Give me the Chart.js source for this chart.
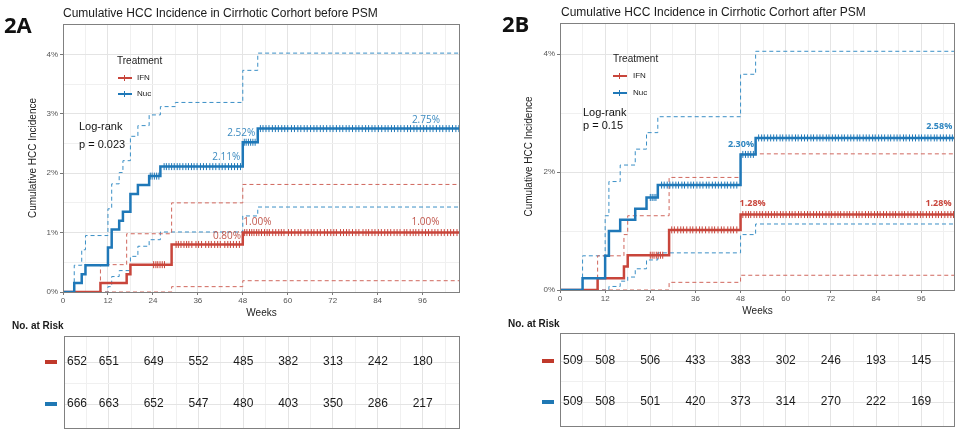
<!DOCTYPE html>
<html>
<head>
<meta charset="utf-8">
<script src="https://cdn.jsdelivr.net/npm/chart.js@4.4.1/dist/chart.umd.min.js"></script>
<style>
  body { margin: 0; background: #fff; font-family: "Liberation Sans", Arial, sans-serif; }
  #wrap { position: relative; width: 960px; height: 433px; overflow: hidden; background: #fff; }
  canvas { position: absolute; }
  .t { position: absolute; white-space: nowrap; color: #1a1a1a; line-height: 1; }
  .panel { font-family: "Open Sans", sans-serif; font-weight: 700; font-size: 22px; color: #111; }
  .title { font-size: 12px; }
  .risk { font-size: 10px; font-weight: 700; }
  .leg { font-size: 10px; color: #222; }
  .legi { font-size: 8px; color: #222; }
  .lr { font-size: 11px; color: #111; }
  .sw { position: absolute; }
</style>
</head>
<body>
<div id="wrap">
  <canvas id="plotA" width="480" height="330" style="left:0;top:0"></canvas>
  <canvas id="tabA" width="480" height="103" style="left:0;top:330px"></canvas>
  <canvas id="plotB" width="480" height="330" style="left:480px;top:0"></canvas>
  <canvas id="tabB" width="480" height="103" style="left:480px;top:330px"></canvas>

  <div class="t panel" style="left:4px;top:13px">2A</div>
  <div class="t title" style="left:63px;top:7px">Cumulative HCC Incidence in Cirrhotic Corhort before PSM</div>
  <div class="t panel" style="left:502px;top:12px">2B</div>
  <div class="t title" style="left:561px;top:6px">Cumulative HCC Incidence in Cirrhotic Corhort after PSM</div>

  <!-- legends inside the plots -->
  <div class="t leg" style="left:117px;top:56px">Treatment</div>
  <div class="sw" style="left:118px;top:77px;width:14px;height:2px;background:#c8453b"></div>
  <div class="sw" style="left:124px;top:75px;width:1px;height:6px;background:#c8453b"></div>
  <div class="t legi" style="left:137px;top:74px">IFN</div>
  <div class="sw" style="left:118px;top:93px;width:14px;height:2px;background:#1f78b8"></div>
  <div class="sw" style="left:124px;top:91px;width:1px;height:6px;background:#1f78b8"></div>
  <div class="t legi" style="left:137px;top:90px">Nuc</div>

  <div class="t leg" style="left:613px;top:54px">Treatment</div>
  <div class="sw" style="left:613px;top:75px;width:14px;height:2px;background:#c8453b"></div>
  <div class="sw" style="left:619px;top:73px;width:1px;height:6px;background:#c8453b"></div>
  <div class="t legi" style="left:633px;top:72px">IFN</div>
  <div class="sw" style="left:613px;top:92px;width:14px;height:2px;background:#1f78b8"></div>
  <div class="sw" style="left:619px;top:90px;width:1px;height:6px;background:#1f78b8"></div>
  <div class="t legi" style="left:633px;top:89px">Nuc</div>

  <div class="t lr" style="left:79px;top:121px">Log-rank</div>
  <div class="t lr" style="left:79px;top:139px">p = 0.023</div>
  <div class="t lr" style="left:583px;top:107px">Log-rank</div>
  <div class="t lr" style="left:583px;top:120px">p = 0.15</div>

  <!-- risk table headers and swatches -->
  <div class="t risk" style="left:12px;top:321px">No. at Risk</div>
  <div class="sw" style="left:45px;top:360px;width:12px;height:4px;background:#c0392b"></div>
  <div class="sw" style="left:45px;top:402px;width:12px;height:4px;background:#1f78b4"></div>
  <div class="t risk" style="left:508px;top:319px">No. at Risk</div>
  <div class="sw" style="left:542px;top:359px;width:12px;height:4px;background:#c0392b"></div>
  <div class="sw" style="left:542px;top:400px;width:12px;height:4px;background:#1f78b4"></div>
</div>

<script>
// ---- data (weeks, cumulative incidence in %) ----
const riskWeeks = [0, 12, 24, 36, 48, 60, 72, 84, 96];

// 2A: before PSM
const ifnTimesA = [0, 10, 17, 18, 29, 48, 106];
const ifnCumA   = [0, 0.15, 0.30, 0.46, 0.80, 1.00, 1.00];
const ifnUpTimesA = [0, 10, 17, 29, 48, 106];
const ifnUpA      = [0, 0.46, 0.98, 1.50, 1.81, 1.81];
const ifnLoTimesA = [0, 29, 48, 106];
const ifnLoA      = [0, 0.09, 0.19, 0.19];
const nucTimesA = [0, 3, 5, 6, 12, 13, 15, 16, 18, 20, 23, 26, 48, 52, 106];
const nucCumA   = [0, 0.15, 0.30, 0.45, 0.75, 1.05, 1.20, 1.35, 1.65, 1.80, 1.95, 2.11, 2.52, 2.75, 2.75];
const nucUpTimesA = [0, 3, 5, 6, 12, 13, 15, 16, 18, 20, 23, 26, 30, 48, 52, 106];
const nucUpA      = [0, 0.45, 0.71, 0.95, 1.40, 1.82, 2.01, 2.21, 2.62, 2.80, 2.98, 3.12, 3.19, 3.73, 4.02, 4.02];
const nucLoTimesA = [0, 12, 13, 15, 18, 20, 23, 26, 48, 52, 106];
const nucLoA      = [0, 0.09, 0.26, 0.36, 0.60, 0.77, 0.88, 1.01, 1.28, 1.43, 1.43];
const ifnCensorA = [24.2, 24.8, 25.3, 25.9, 26.5, 27.1, 30.2, 30.8, 31.5, 32.3, 33, 33.6, 34.4, 35.5, 36.2, 37,
  38.1, 38.9, 39.6, 40.5, 41.3, 42, 43.2, 44, 44.7, 45.5, 46.3, 47.1, 48.5, 49.1, 49.8, 50.4, 51, 51.7, 52.3,
  53, 53.8, 54.5, 55.1, 56, 56.8, 57.6, 58.3, 59, 60.2, 61, 61.9, 62.8, 63.5, 64.6, 65.4, 66.3, 67, 67.9, 68.7,
  69.8, 70.6, 71.5, 72.3, 73, 74.1, 74.9, 75.7, 76.4, 77.3, 78.2, 79, 80.1, 80.9, 81.6, 82.5, 83.3, 84.2, 85,
  85.9, 86.7, 87.5, 88.4, 89.2, 90, 91.1, 91.8, 92.7, 93.5, 94.2, 95, 95.9, 96.8, 97.6, 98.5, 99.3, 100.1, 101,
  101.8, 102.7, 103.5, 104.3, 105.2];
const nucCensorA = [23.3, 23.8, 24.4, 25, 25.6, 27, 27.6, 28.3, 29, 29.7, 30.5, 31.2, 32, 32.8, 33.5, 34.3, 35,
  35.8, 36.7, 37.5, 38.3, 39.2, 40, 40.8, 41.7, 42.5, 43.3, 44.2, 45, 45.8, 46.6, 47.4, 48.4, 48.9, 49.5, 50.1,
  50.7, 51.3, 52.7, 53.4, 54.2, 55, 55.9, 56.7, 57.5, 58.4, 59.2, 60, 61, 61.8, 62.7, 63.5, 64.4, 65.2, 66.1, 67,
  67.8, 68.7, 69.5, 70.4, 71.3, 72.1, 73, 73.9, 74.7, 75.6, 76.4, 77.3, 78.2, 79, 79.9, 80.8, 81.6, 82.5, 83.3,
  84.2, 85.1, 86, 86.8, 87.7, 88.5, 89.4, 90.2, 91.1, 92, 92.8, 93.7, 94.5, 95.4, 96.3, 97.1, 98, 98.8, 99.7,
  100.6, 101.4, 102.3, 103.1, 104, 104.9, 105.7];
const ifnRiskA = [652, 651, 649, 552, 485, 382, 313, 242, 180];
const nucRiskA = [666, 663, 652, 547, 480, 403, 350, 286, 217];

// 2B: after PSM
const ifnTimesB = [0, 10, 17, 18, 29, 48, 105];
const ifnCumB   = [0, 0.20, 0.40, 0.59, 1.02, 1.28, 1.28];
const ifnUpTimesB = [0, 10, 17, 18, 29, 48, 105];
const ifnUpB      = [0, 0.58, 0.94, 1.26, 1.91, 2.31, 2.31];
const ifnLoTimesB = [0, 29, 48, 105];
const ifnLoB      = [0, 0.13, 0.25, 0.25];
const nucTimesB = [0, 6, 12, 13, 16, 20, 23, 26, 48, 52, 105];
const nucCumB   = [0, 0.20, 0.58, 1.00, 1.19, 1.38, 1.57, 1.78, 2.30, 2.58, 2.58];
const nucUpTimesB = [0, 6, 12, 13, 16, 20, 23, 26, 48, 52, 105];
const nucUpB      = [0, 0.58, 1.26, 1.84, 2.12, 2.39, 2.67, 2.94, 3.66, 4.05, 4.05];
const nucLoTimesB = [0, 13, 16, 18, 20, 23, 26, 48, 52, 105];
const nucLoB      = [0, 0.06, 0.15, 0.22, 0.36, 0.51, 0.63, 0.94, 1.12, 1.12];
const ifnCensorB = [24, 24.5, 25, 25.6, 26.1, 26.7, 27.3, 29.7, 30.4, 31.3, 32.1, 32.8, 33.7, 34.6, 35.3, 36.2,
  37.1, 37.8, 38.7, 39.6, 40.4, 41.1, 42, 42.9, 43.6, 44.6, 45.4, 46.1, 47, 48.6, 49.4, 50.1, 50.7, 51.6, 52.3,
  53.1, 53.8, 54.7, 55.4, 56.2, 57, 57.7, 58.6, 59.3, 60.1, 61, 61.7, 62.5, 63.4, 64.1, 65, 65.8, 66.5, 67.4,
  68.2, 69, 69.8, 70.7, 71.5, 72.2, 73.1, 73.9, 74.6, 75.5, 76.3, 77, 77.9, 78.8, 79.5, 80.3, 81.2, 82, 82.7,
  83.6, 84.4, 85.1, 86, 86.8, 87.7, 88.5, 89.2, 90.1, 90.9, 91.6, 92.5, 93.3, 94.1, 95, 95.8, 96.5, 97.4, 98.2,
  99, 99.9, 100.6, 101.4, 102.3, 103.1, 103.9, 104.6];
const nucCensorB = [24, 24.5, 25, 25.5, 27, 27.7, 28.5, 29.2, 30, 30.8, 31.5, 32.4, 33.1, 34, 34.8, 35.5, 36.4,
  37.2, 38, 38.9, 39.6, 40.5, 41.3, 42.1, 42.9, 43.8, 44.5, 45.4, 46.2, 47, 48.6, 49.3, 50, 50.7, 51.4, 52.8,
  53.6, 54.3, 55.2, 56, 56.8, 57.6, 58.5, 59.2, 60.1, 60.9, 61.7, 62.6, 63.3, 64.2, 65, 65.8, 66.7, 67.4, 68.3,
  69.1, 69.9, 70.8, 71.5, 72.4, 73.2, 74, 74.9, 75.6, 76.5, 77.3, 78.1, 79, 79.7, 80.6, 81.4, 82.2, 83.1, 83.8,
  84.7, 85.5, 86.3, 87.2, 87.9, 88.8, 89.6, 90.4, 91.3, 92, 92.9, 93.7, 94.5, 95.4, 96.1, 97, 97.8, 98.6, 99.5,
  100.2, 101.1, 101.9, 102.7, 103.6, 104.3];
const ifnRiskB = [509, 508, 506, 433, 383, 302, 246, 193, 145];
const nucRiskB = [509, 508, 501, 420, 373, 314, 270, 222, 169];

// ---- styling ----
const RED = '#c8453b', BLUE = '#1f78b8';
const RED_CI = '#d0675d', BLUE_CI = '#3a8fc6';
const FONT = '"Liberation Sans", Arial, sans-serif';
const GRID_MAJOR = '#e4e4e4', GRID_MINOR = '#f0f0f0';
const xGrid = [0, 6, 12, 18, 24, 30, 36, 42, 48, 54, 60, 66, 72, 78, 84, 90, 96, 102];

function steps(times, vals) {
  return times.map((t, i) => ({ x: t, y: vals[i] }));
}
// value of the step curve at week t
function kmAt(times, vals, t) {
  let v = vals[0];
  for (let i = 0; i < times.length; i++) { if (times[i] <= t) v = vals[i]; }
  return v;
}
function censorPts(times, vals, marks) {
  return marks.map(m => ({ x: m, y: kmAt(times, vals, m) }));
}
function curve(data, color, width, dashed, order) {
  return {
    data: data, borderColor: color, borderWidth: width, borderDash: dashed ? [4, 3] : [],
    stepped: 'before', pointRadius: 0, fill: false, order: order
  };
}
function censor(data, color) {
  return {
    data: data, showLine: false, pointStyle: 'line', rotation: 90, pointRadius: 3.5,
    pointBorderWidth: 1, borderColor: color, backgroundColor: color, order: 0
  };
}

// frame round the plot area + text labels at the end of the curves
const boxPlugin = {
  id: 'box',
  afterDatasetsDraw(chart, args, opts) {
    const ctx = chart.ctx, a = chart.chartArea;
    const xs = chart.scales.x, ys = chart.scales.y;
    ctx.save();
    (opts.labels || []).forEach(l => {
      ctx.font = (opts.bold ? 'bold ' : '') + opts.size + 'px "Open Sans", sans-serif';
      ctx.fillStyle = l.color;
      ctx.textAlign = 'center';
      ctx.textBaseline = 'middle';
      ctx.fillText(l.text, xs.getPixelForValue(l.week), ys.getPixelForValue(l.value) - l.dy);
    });
    ctx.strokeStyle = '#808080';
    ctx.lineWidth = 1;
    ctx.strokeRect(Math.round(a.left) + 0.5, Math.round(a.top) + 0.5,
      Math.round(a.right - a.left) - 1, Math.round(a.bottom - a.top));
    ctx.restore();
  }
};

function makePlot(id, s) {
  return new Chart(document.getElementById(id), {
    type: 'line',
    data: {
      datasets: [
        curve(steps(s.ifnUpT, s.ifnUp), RED_CI, 1, true, 3),
        curve(steps(s.ifnLoT, s.ifnLo), RED_CI, 1, true, 3),
        curve(steps(s.nucUpT, s.nucUp), BLUE_CI, 1, true, 3),
        curve(steps(s.nucLoT, s.nucLo), BLUE_CI, 1, true, 3),
        curve(steps(s.ifnT, s.ifn), RED, 2.5, false, 2),
        curve(steps(s.nucT, s.nuc), BLUE, 2.5, false, 1),
        censor(censorPts(s.ifnT, s.ifn, s.ifnC), RED),
        censor(censorPts(s.nucT, s.nuc, s.nucC), BLUE)
      ]
    },
    plugins: [boxPlugin],
    options: {
      responsive: false, animation: false, devicePixelRatio: 1,
      layout: { padding: { left: s.padL, right: s.padR, top: s.padT, bottom: 0 } },
      plugins: {
        legend: { display: false }, tooltip: { enabled: false },
        box: { labels: s.labels, bold: s.bold, size: s.labelSize }
      },
      scales: {
        x: {
          type: 'linear', min: 0, max: s.xMax,
          afterBuildTicks: sc => { sc.ticks = xGrid.map(v => ({ value: v })); },
          afterFit: sc => { sc.height = s.xH; },
          ticks: { autoSkip: false, maxRotation: 0, padding: 1, color: '#555',
            font: { size: 8, family: FONT }, callback: v => (v % 12 === 0 ? v : '') },
          grid: { color: c => (c.tick && c.tick.value % 12 === 0 ? GRID_MAJOR : GRID_MINOR),
            tickColor: c => (c.tick && c.tick.value % 12 === 0 ? '#777' : 'rgba(0,0,0,0)'), tickLength: 3 },
          border: { display: false },
          title: { display: true, text: 'Weeks', color: '#222', font: { size: 10, family: FONT },
            padding: { top: 0, bottom: s.titlePadX } }
        },
        y: {
          type: 'linear', min: 0, max: s.yMax,
          afterBuildTicks: sc => { sc.ticks = s.yGrid.map(v => ({ value: v })); },
          afterFit: sc => { sc.width = s.yW; },
          ticks: { padding: 2, color: '#555', font: { size: 8, family: FONT },
            callback: v => (s.yLab.includes(v) ? v + '%' : '') },
          grid: { color: c => (c.tick && s.yLab.includes(c.tick.value) ? GRID_MAJOR : GRID_MINOR),
            tickColor: c => (c.tick && s.yLab.includes(c.tick.value) ? '#777' : 'rgba(0,0,0,0)'), tickLength: 3 },
          border: { display: false },
          title: { display: true, text: 'Cumulative HCC Incidence', color: '#222',
            font: { size: 10, family: FONT }, padding: { top: 4, bottom: 0 } }
        }
      }
    }
  });
}

// risk table drawn on the same week scale as the plot above it
const riskPlugin = {
  id: 'risk',
  afterDraw(chart, args, opts) {
    const ctx = chart.ctx, a = chart.chartArea;
    const xs = chart.scales.x, ys = chart.scales.y;
    ctx.save();
    ctx.font = '12px ' + FONT;
    ctx.fillStyle = '#1a1a1a';
    ctx.textBaseline = 'middle';
    [[opts.ifn, 2], [opts.nuc, 1]].forEach(([row, r]) => {
      row.forEach((n, i) => {
        const x = xs.getPixelForValue(riskWeeks[i]);
        if (i === 0) { ctx.textAlign = 'left'; ctx.fillText(n, a.left + 3, ys.getPixelForValue(r)); }
        else { ctx.textAlign = 'center'; ctx.fillText(n, x, ys.getPixelForValue(r)); }
      });
    });
    ctx.strokeStyle = '#808080';
    ctx.lineWidth = 1;
    ctx.strokeRect(Math.round(a.left) + 0.5, Math.round(a.top) + 0.5,
      Math.round(a.right - a.left) - 1, Math.round(a.bottom - a.top));
    ctx.restore();
  }
};

function makeTable(id, s) {
  return new Chart(document.getElementById(id), {
    type: 'line',
    data: { datasets: [] },
    plugins: [riskPlugin],
    options: {
      responsive: false, animation: false, devicePixelRatio: 1,
      layout: { padding: s.pad },
      plugins: { legend: { display: false }, tooltip: { enabled: false }, risk: { ifn: s.ifn, nuc: s.nuc } },
      scales: {
        x: {
          type: 'linear', min: 0, max: s.xMax,
          afterBuildTicks: sc => { sc.ticks = xGrid.map(v => ({ value: v })); },
          afterFit: sc => { sc.height = 0; },
          ticks: { display: false },
          grid: { color: c => (c.tick && c.tick.value % 12 === 0 ? GRID_MAJOR : GRID_MINOR), drawTicks: false },
          border: { display: false }
        },
        y: {
          type: 'linear', min: s.yMin, max: s.yMax,
          afterBuildTicks: sc => { sc.ticks = [1, 1.5, 2].map(v => ({ value: v })); },
          afterFit: sc => { sc.width = 0; },
          ticks: { display: false },
          grid: { color: c => (c.tick && c.tick.value % 1 === 0 ? GRID_MAJOR : GRID_MINOR), drawTicks: false },
          border: { display: false }
        }
      }
    }
  });
}

makePlot('plotA', {
  ifnT: ifnTimesA, ifn: ifnCumA, ifnUpT: ifnUpTimesA, ifnUp: ifnUpA, ifnLoT: ifnLoTimesA, ifnLo: ifnLoA,
  nucT: nucTimesA, nuc: nucCumA, nucUpT: nucUpTimesA, nucUp: nucUpA, nucLoT: nucLoTimesA, nucLo: nucLoA,
  ifnC: ifnCensorA, nucC: nucCensorA,
  xMax: 106, yMax: 4.51, yGrid: [0, 0.5, 1, 1.5, 2, 2.5, 3, 3.5, 4, 4.5], yLab: [0, 1, 2, 3, 4],
  padL: 23, padR: 20, padT: 24, yW: 40, xH: 38, titlePadX: 11,
  bold: false, labelSize: 10,
  labels: [
    { text: '2.11%', week: 43.6, value: 2.11, dy: 9, color: '#3d8bc0' },
    { text: '2.52%', week: 47.6, value: 2.52, dy: 9, color: '#3d8bc0' },
    { text: '2.75%', week: 96.9, value: 2.75, dy: 8, color: '#3d8bc0' },
    { text: '0.80%', week: 43.8, value: 0.80, dy: 8, color: '#c0564c' },
    { text: '1.00%', week: 51.9, value: 1.00, dy: 10, color: '#c0564c' },
    { text: '1.00%', week: 96.8, value: 1.00, dy: 10.5, color: '#c0564c' }
  ]
});

makePlot('plotB', {
  ifnT: ifnTimesB, ifn: ifnCumB, ifnUpT: ifnUpTimesB, ifnUp: ifnUpB, ifnLoT: ifnLoTimesB, ifnLo: ifnLoB,
  nucT: nucTimesB, nuc: nucCumB, nucUpT: nucUpTimesB, nucUp: nucUpB, nucLoT: nucLoTimesB, nucLo: nucLoB,
  ifnC: ifnCensorB, nucC: nucCensorB,
  xMax: 105, yMax: 4.53, yGrid: [0, 1, 2, 3, 4], yLab: [0, 2, 4],
  padL: 39, padR: 5, padT: 23, yW: 41, xH: 40, titlePadX: 13,
  bold: true, labelSize: 9,
  labels: [
    { text: '2.30%', week: 48.1, value: 2.30, dy: 10, color: '#2f86c0' },
    { text: '2.58%', week: 100.8, value: 2.58, dy: 11, color: '#2f86c0' },
    { text: '1.28%', week: 51.2, value: 1.28, dy: 11.5, color: '#c8453b' },
    { text: '1.28%', week: 100.6, value: 1.28, dy: 11.5, color: '#c8453b' }
  ]
});

makeTable('tabA', { ifn: ifnRiskA, nuc: nucRiskA, xMax: 106, yMin: 0.428, yMax: 2.621,
  pad: { left: 64, right: 20, top: 6, bottom: 5 } });
makeTable('tabB', { ifn: ifnRiskB, nuc: nucRiskB, xMax: 105, yMin: 0.415, yMax: 2.683,
  pad: { left: 80, right: 5, top: 3, bottom: 7 } });
</script>
</body>
</html>
